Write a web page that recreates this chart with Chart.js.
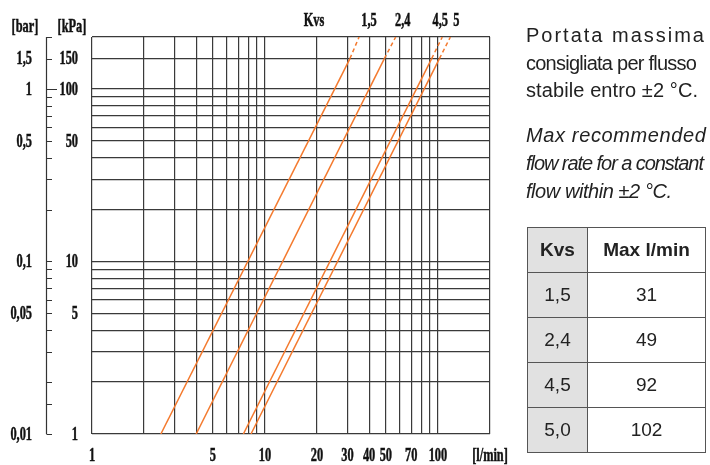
<!DOCTYPE html>
<html lang="it">
<head>
  <meta charset="UTF-8" />
  <title>Kvs - portata / perdita di carico</title>
  <script src="https://cdn.jsdelivr.net/npm/chart.js"></script>
  <style>
    * { margin: 0; padding: 0; box-sizing: border-box; }
    html, body { width: 710px; height: 465px; background: #fff; overflow: hidden; }
    #wrap { position: absolute; left: 0; top: 0; width: 710px; height: 465px; }
    /* Right side note */
    .note {
      position: absolute;
      left: 526px;
      font-family: 'Liberation Sans', Arial, sans-serif;
      font-size: 20px;
      line-height: 20px;
      color: #222;
      white-space: nowrap;
    }
    .note.it { font-style: italic; }
    /* Max flow table */
    table {
      position: absolute;
      left: 527px;
      top: 227px;
      width: 179px;
      height: 226px;
      border-collapse: collapse;
      font-family: 'Liberation Sans', Arial, sans-serif;
      font-size: 19px;
      color: #222;
    }
    td, th {
      border: 1.5px solid #555;
      text-align: center;
      vertical-align: middle;
    }
    th { font-weight: bold; }
    .kcol { background: #e1e1e1; width: 60px; }
  </style>
</head>
<body>
  <div id="wrap"><canvas id="chart"></canvas></div>

  <div class="note" data-w="178" style="top:25px">Portata massima</div>
  <div class="note" data-w="171" style="top:53px">consigliata per flusso</div>
  <div class="note" data-w="172" style="top:80px">stabile entro ±2 °C.</div>
  <div class="note it" data-w="180" style="top:125px">Max recommended</div>
  <div class="note it" data-w="178" style="top:153px">flow rate for a constant</div>
  <div class="note it" data-w="146" style="top:181px">flow within ±2 °C.</div>

  <table id="maxTable"></table>

  <script>
    // ---- data ----
    const kvsLabels = ['1,5', '2,4', '4,5', '5'];
    const tableKvs = ['1,5', '2,4', '4,5', '5,0'];
    const tableMaxFlow = [31, 49, 92, 102];

    // pressure drop [kPa] where the lines start, go dashed and end
    const pressureStart = 1;
    const pressureMax = 150;
    const pressureEnd = 200;
    // flow [l/min] of each Kvs line at those pressures
    const flowAtStart = [2.5, 4.0, 7.5, 8.3];
    const flowAtMax = [31, 49, 92, 102];
    const flowAtEnd = [35, 57, 106, 118];

    // grid lines
    const flowGrid = [1,2,3,4,5,6,7,8,9,10,20,30,40,50,60,70,80,90,100,200];
    const kpaGrid = [1,2,3,4,5,6,7,8,9,10,20,30,40,50,60,70,80,90,100,150,200];
    // marks on the left pressure axis
    const kpaAxisMarks = [1,1.5,2,3,4,5,6,7,8,9,10,20,30,40,50,60,70,80,90,100,150,200];
    // tick labels
    const flowTickLabels = [1, 5, 10, 20, 30, 40, 50, 70, 100];
    const kpaTickLabels = [150, 100, 50, 10, 5, 1];
    const barTickLabels = ['1,5', '1', '0,5', '0,1', '0,05', '0,01'];

    const ORANGE = '#f47a2e';
    const GRID = '#3a3a3a';

    // ---- table ----
    const table = document.getElementById('maxTable');
    let rows = '<tr><th class="kcol">Kvs</th><th>Max l/min</th></tr>';
    tableKvs.forEach((k, i) => {
      rows += `<tr><td class="kcol">${k}</td><td>${tableMaxFlow[i]}</td></tr>`;
    });
    table.innerHTML = rows;

    // stretch / squeeze note lines to their widths
    document.querySelectorAll('.note').forEach(el => {
      const target = +el.dataset.w;
      const n = el.textContent.length;
      const natural = el.getBoundingClientRect().width;
      el.style.letterSpacing = ((target - natural) / (n - 1)) + 'px';
    });

    // ---- datasets ----
    const datasets = [];
    kvsLabels.forEach((k, i) => {
      datasets.push({
        label: 'Kvs ' + k,
        data: [{ x: flowAtStart[i], y: pressureStart }, { x: flowAtMax[i], y: pressureMax }],
        borderColor: ORANGE, borderWidth: 1.5, showLine: true, pointRadius: 0
      });
      datasets.push({
        label: 'Kvs ' + k + ' (oltre max)',
        data: [{ x: flowAtMax[i], y: pressureMax }, { x: flowAtEnd[i], y: pressureEnd }],
        borderColor: ORANGE, borderWidth: 1.5, borderDash: [4, 3], showLine: true, pointRadius: 0
      });
    });

    // condensed bold serif text like the printed chart
    function serif(ctx, text, x, y, align) {
      ctx.save();
      ctx.font = 'bold 19px "Liberation Serif", "Times New Roman", serif';
      ctx.fillStyle = '#111';
      ctx.strokeStyle = '#111';
      ctx.lineWidth = 0.5;
      ctx.textBaseline = 'middle';
      ctx.translate(x, y);
      ctx.scale(0.65, 1);
      const w = ctx.measureText(text).width;
      let dx = 0;
      if (align === 'center') dx = -w / 2;
      if (align === 'right') dx = -w;
      ctx.fillText(text, dx, 0);
      ctx.strokeText(text, dx, 0);
      ctx.restore();
    }

    const labelPlugin = {
      id: 'labelPlugin',
      afterDraw(chart) {
        const ctx = chart.ctx;
        const xs = chart.scales.x, ys = chart.scales.y;
        const area = chart.chartArea;

        // left pressure axis
        ctx.save();
        ctx.strokeStyle = '#333';
        ctx.lineWidth = 1.2;
        ctx.beginPath();
        ctx.moveTo(46.5, area.top);
        ctx.lineTo(46.5, area.bottom);
        kpaAxisMarks.forEach(v => {
          const y = Math.round(ys.getPixelForValue(v)) + 0.5;
          ctx.moveTo(46.5, y);
          ctx.lineTo(v === 100 ? 57 : 52, y);
        });
        ctx.stroke();
        ctx.restore();

        // axis headers
        serif(ctx, '[bar]', 25, 27, 'center');
        serif(ctx, '[kPa]', 72, 27, 'center');

        // pressure labels
        kpaTickLabels.forEach((v, i) => {
          const y = ys.getPixelForValue(v) + 1;
          serif(ctx, String(v), 78, y, 'right');
          serif(ctx, barTickLabels[i], 32, y, 'right');
        });

        // flow labels
        flowTickLabels.forEach(v => {
          serif(ctx, String(v), xs.getPixelForValue(v), 456, 'center');
        });
        serif(ctx, '[l/min]', xs.getPixelForValue(200), 456, 'center');

        // Kvs labels above the dashed ends
        const offs = [10, 7, -2, 6];
        serif(ctx, 'Kvs', 314, 21, 'center');
        kvsLabels.forEach((k, i) => {
          serif(ctx, k, xs.getPixelForValue(flowAtEnd[i]) + offs[i], 21, 'center');
        });
      }
    };

    new Chart(document.getElementById('chart'), {
      type: 'scatter',
      data: { datasets },
      options: {
        responsive: true,
        maintainAspectRatio: false,
        animation: false,
        layout: { padding: { left: 0, top: 37, right: 220, bottom: 0 } },
        plugins: { legend: { display: false }, tooltip: { enabled: false } },
        scales: {
          x: {
            type: 'logarithmic',
            min: 1, max: 200,
            afterBuildTicks: s => { s.ticks = flowGrid.map(v => ({ value: v })); },
            afterFit: s => { s.height = 31; },
            ticks: { display: false },
            grid: { color: GRID, lineWidth: 1.2, drawTicks: false },
            border: { display: false }
          },
          y: {
            type: 'logarithmic',
            min: 1, max: 200,
            afterBuildTicks: s => { s.ticks = kpaGrid.map(v => ({ value: v })); },
            afterFit: s => { s.width = 92; },
            ticks: { display: false },
            grid: { color: GRID, lineWidth: 1.2, drawTicks: false },
            border: { display: false }
          }
        }
      },
      plugins: [labelPlugin]
    });
  </script>
</body>
</html>
